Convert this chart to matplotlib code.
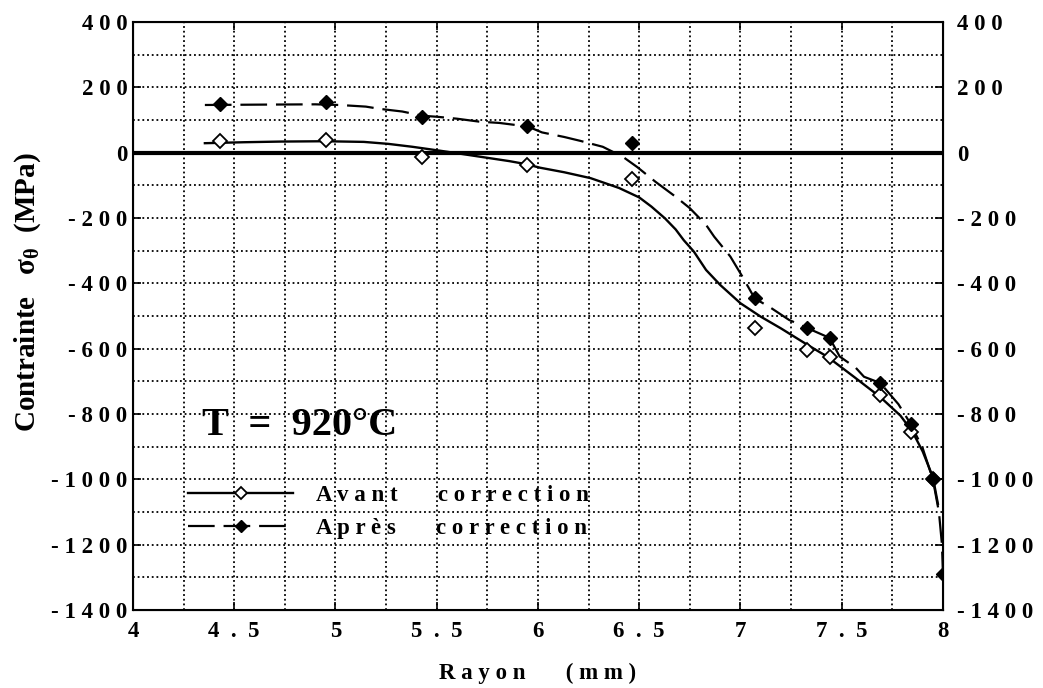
import matplotlib
matplotlib.use("Agg")
import matplotlib.pyplot as plt
from matplotlib.lines import Line2D
from matplotlib.ticker import FixedLocator, MultipleLocator, FuncFormatter

plt.rcParams['font.family'] = ['Liberation Serif', 'DejaVu Serif']
plt.rcParams['font.weight'] = 'bold'
plt.rcParams['mathtext.fontset'] = 'custom'
plt.rcParams['mathtext.rm'] = 'Liberation Serif:bold'
plt.rcParams['mathtext.it'] = 'Liberation Serif:bold'

# measured points (radius in mm, hoop stress in MPa)
rayon_avant = [4.43, 4.955, 5.425, 5.945, 6.465, 7.07, 7.33, 7.44, 7.69, 7.84, 7.95]
sigma_avant = [36, 39, -12, -38, -82, -536, -604, -625, -742, -855, -1000]

rayon_apres = [4.43, 4.955, 5.425, 5.945, 6.465, 7.07, 7.33, 7.44, 7.69, 7.84, 7.95, 8.0]
sigma_apres = [149, 156, 108, 82, 29, -446, -537, -567, -705, -830, -1000, -1290]

# fitted curves
fit_avant_x = [4.355, 4.55, 4.73, 4.95, 5.14, 5.26, 5.38, 5.55, 5.71, 5.86, 5.94, 6.01, 6.13,
               6.26, 6.40, 6.50, 6.56, 6.627, 6.68, 6.72, 6.77, 6.83, 6.90, 7.00,
               7.10, 7.20, 7.33, 7.43, 7.56, 7.69, 7.79, 7.85, 7.90, 7.95, 7.975]
fit_avant_y = [29, 32, 34, 35, 33, 27, 18, 3, -12, -26, -35, -46, -60,
               -78, -108, -137, -165, -201, -235, -268, -303, -359, -405, -461,
               -502, -538, -588, -625, -686, -748, -805, -855, -915, -993, -1075]

fit_apres_x = [4.355, 4.6, 4.9, 5.02, 5.15, 5.22, 5.33, 5.43, 5.5, 5.6, 5.71, 5.81, 5.95,
               6.02, 6.13, 6.21, 6.32, 6.42, 6.49, 6.58, 6.68, 6.75, 6.83, 6.87, 6.95,
               7.01, 7.07, 7.15, 7.24, 7.33, 7.44, 7.49, 7.57, 7.61, 7.69, 7.78, 7.84,
               7.90, 7.95, 7.98, 7.995, 8.0]
fit_apres_y = [146, 147, 148, 146, 141, 134, 126, 113, 110, 104, 95, 91, 80,
               62, 48, 36, 18, -13, -44, -89, -135, -170, -221, -257, -318,
               -380, -446, -475, -512, -537, -567, -624, -659, -686, -705, -770, -830,
               -905, -1000, -1100, -1200, -1290]

x_ticks = [4, 4.5, 5, 5.5, 6, 6.5, 7, 7.5, 8]
y_ticks = [400, 200, 0, -200, -400, -600, -800, -1000, -1200, -1400]


def spaced_x(v, pos=None):
    return '  '.join(f"{v:g}")


def spaced_y(v, pos=None):
    return ' '.join(f"{v:g}")


fig = plt.figure(figsize=(10.43, 6.88), dpi=100)
ax = fig.add_axes([0.1275, 0.1134, 0.7766, 0.8546])

ax.set_xlim(4, 8)
ax.set_ylim(-1400, 400)

ax.xaxis.set_major_locator(FixedLocator(x_ticks))
ax.yaxis.set_major_locator(FixedLocator(y_ticks))
ax.xaxis.set_minor_locator(MultipleLocator(0.25))
ax.yaxis.set_minor_locator(MultipleLocator(100))
ax.xaxis.set_major_formatter(FuncFormatter(spaced_x))
ax.yaxis.set_major_formatter(FuncFormatter(spaced_y))

ax.grid(which='both', color='black', linestyle=(0, (1, 1.6)), linewidth=1.3)
ax.tick_params(which='major', direction='in', length=6, width=1.2,
               top=True, right=True, labelsize=16.5, pad=4)
ax.tick_params(axis='x', which='major', pad=8)
ax.tick_params(which='minor', length=0)
for s in ax.spines.values():
    s.set_linewidth(1.5)

# right-hand labels
ax2 = ax.twinx()
ax2.set_ylim(ax.get_ylim())
ax2.yaxis.set_major_locator(FixedLocator(y_ticks))
ax2.yaxis.set_major_formatter(FuncFormatter(spaced_y))
ax2.tick_params(direction='in', length=6, width=1.2, labelsize=16.5, pad=10)
ax2.set_zorder(0)
ax.set_zorder(1)
ax.patch.set_visible(False)

ax.axhline(0, color='black', linewidth=3)

avant_style = dict(color='black', linestyle='-', linewidth=1.7)
apres_style = dict(color='black', linestyle=(0, (12, 4)), linewidth=1.6)
ax.plot(fit_avant_x, fit_avant_y, **avant_style)
ax.plot(fit_apres_x, fit_apres_y, **apres_style)

ax.plot(rayon_avant, sigma_avant, linestyle='none', marker='D', markersize=7,
        markerfacecolor='white', markeredgecolor='black', markeredgewidth=1.3)
ax.plot(rayon_apres, sigma_apres, linestyle='none', marker='D', markersize=7.5,
        markerfacecolor='black', markeredgecolor='black')

handles = [
    Line2D([], [], marker='D', markersize=6, markerfacecolor='white',
           markeredgecolor='black', markeredgewidth=1.3, **avant_style),
    Line2D([], [], marker='D', markersize=6, markerfacecolor='black',
           markeredgecolor='black', **apres_style),
]
labels = ['A v a n t       c o r r e c t i o n', 'A p r è s       c o r r e c t i o n']
ax.legend(handles, labels, loc='center left', bbox_to_anchor=(0.068, 0.1667),
          frameon=False, fontsize=16.5, handlelength=4.6, handletextpad=1.0,
          labelspacing=0.55, borderpad=0, borderaxespad=0)

ax.text(4.34, -865, 'T  =  920°C', fontsize=29, fontweight='bold',
        ha='left', va='baseline')

ax.set_xlabel('R a y o n       ( m m )', fontsize=16.5, fontweight='bold')
ax.xaxis.set_label_coords(0.5, -0.09)
fig.text(0.027, 0.5756, r'Contrainte   $\sigma_\theta$  (MPa)', rotation=90,
         fontsize=21, ha='center', va='center')

fig.savefig('out.png', dpi=100)
